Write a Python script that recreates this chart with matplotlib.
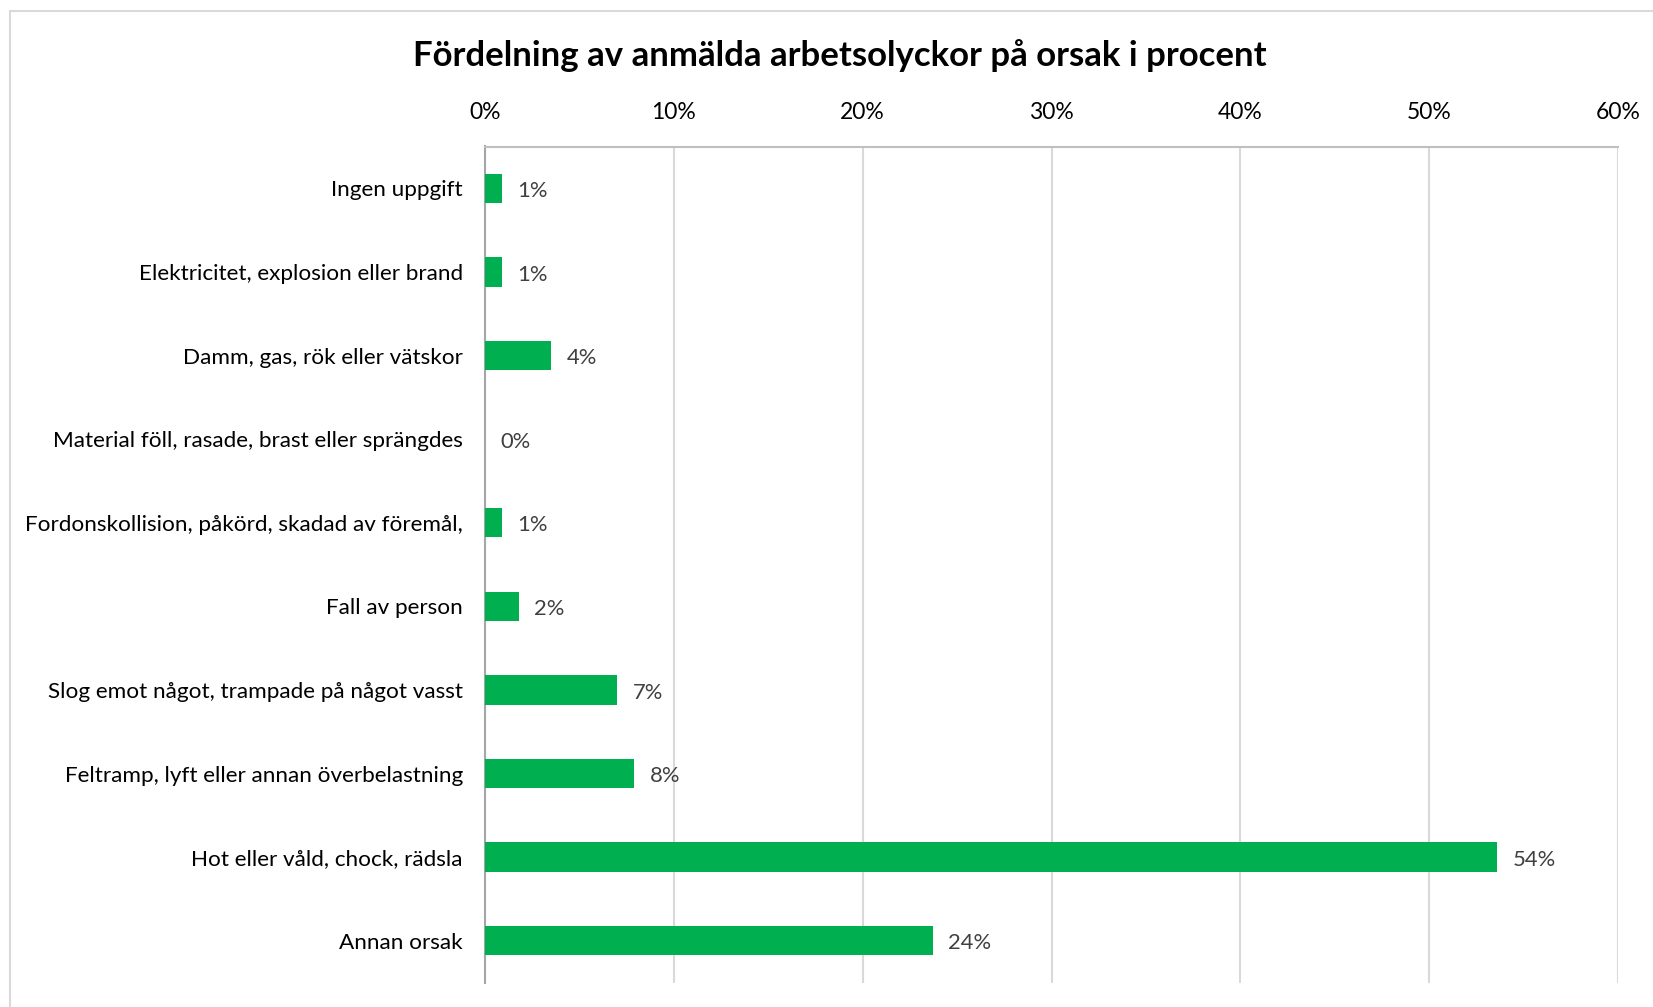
import matplotlib
matplotlib.use("Agg")
import matplotlib.pyplot as plt
from matplotlib.patches import Rectangle

categories = [
    "Ingen uppgift",
    "Elektricitet, explosion eller brand",
    "Damm, gas, rök eller vätskor",
    "Material föll, rasade, brast eller sprängdes",
    "Fordonskollision, påkörd, skadad av föremål,",
    "Fall av person",
    "Slog emot något, trampade på något vasst",
    "Feltramp, lyft eller annan överbelastning",
    "Hot eller våld, chock, rädsla",
    "Annan orsak",
]
values = [0.9, 0.9, 3.5, 0.0, 0.9, 1.8, 7.0, 7.9, 53.6, 23.7]
value_labels = ["1%", "1%", "4%", "0%", "1%", "2%", "7%", "8%", "54%", "24%"]
xticks = [0, 10, 20, 30, 40, 50, 60]
xtick_labels = ["0%", "10%", "20%", "30%", "40%", "50%", "60%"]
title = "Fördelning av anmälda arbetsolyckor på orsak i procent"

plt.rcParams["font.family"] = ["Lato", "DejaVu Sans"]

W, H = 1653, 1007
fig = plt.figure(figsize=(W / 100, H / 100), dpi=100)
fig.patch.set_facecolor("white")

# figure border (light gray, extends beyond right/bottom)
fig.add_artist(Rectangle((10 / W, -0.05), 1.2, 1 - 11 / H + 0.05,
                         transform=fig.transFigure, fill=False,
                         edgecolor="#d9d9d9", linewidth=1.5))

ax = fig.add_axes([485 / W, 1 - 982.5 / H, (1618 - 485) / W, (982.5 - 146.5) / H])

y = list(range(len(categories)))
ax.barh(y, values, height=0.35, color="#00B050", zorder=3)
ax.set_ylim(len(categories) - 0.5, -0.5)
ax.set_xlim(0, 60)

ax.set_xticks(xticks)
ax.set_xticklabels(xtick_labels)
ax.xaxis.tick_top()
ax.tick_params(axis="x", length=0, pad=17, labelsize=16.5, labelcolor="black")
ax.set_yticks(y)
ax.set_yticklabels(categories)
ax.tick_params(axis="y", length=0, pad=16, labelsize=16.2, labelcolor="black")

ax.grid(axis="x", color="#d9d9d9", linewidth=1.5, zorder=0)
ax.set_axisbelow(True)
for s in ["right", "bottom"]:
    ax.spines[s].set_visible(False)
ax.spines["top"].set_color("#bfbfbf")
ax.spines["top"].set_linewidth(1.5)
ax.spines["left"].set_color("#a6a6a6")
ax.spines["left"].set_linewidth(1.5)

for yi, v, lab in zip(y, values, value_labels):
    ax.annotate(lab, xy=(v, yi), xytext=(11, -2), textcoords="offset points",
                ha="left", va="center", fontsize=15.8, color="#404040")

fig.text(840 / W, 1 - 56 / H, title, ha="center", va="center",
         fontsize=25, fontweight="bold", color="black")

fig.savefig("out.png", dpi=100)
